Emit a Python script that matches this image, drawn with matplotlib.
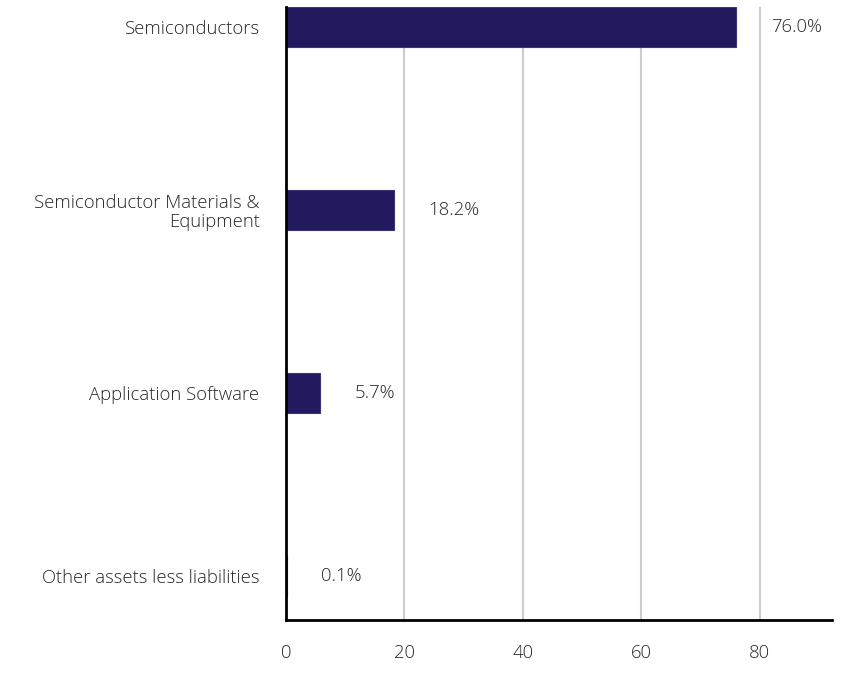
import matplotlib
matplotlib.use("Agg")
import matplotlib.pyplot as plt

categories = ["Semiconductors", "Semiconductor Materials &\nEquipment",
              "Application Software", "Other assets less liabilities"]
values = [76.0, 18.2, 5.7, 0.1]
labels = ["76.0%", "18.2%", "5.7%", "0.1%"]
xticks = [0, 20, 40, 60, 80]

plt.rcParams['font.family'] = ['Open Sans', 'DejaVu Sans']

FS = 13.3
TC = "#262626"

fig = plt.figure(figsize=(8.64, 6.84), dpi=100)
ax = fig.add_axes([286/864, 1-620/684, (832-286)/864, (620-7)/684])

pos = list(range(len(categories)))
ax.barh(pos, values, height=0.219, color="#211a5f", edgecolor="#3a3575", linewidth=0.8, zorder=3)
ax.set_ylim(3 + 44/183, -20/183)
ax.set_xlim(0, 92.2)

for p, v, l in zip(pos, values, labels):
    ax.annotate(l, (v, p), xytext=(25, 0), textcoords="offset points",
                va="center", ha="left", fontsize=FS, color=TC, fontweight="light")

ax.set_yticks(pos)
ax.set_yticklabels(categories, fontsize=FS, color=TC, fontweight="light",
                   linespacing=1.08)
ax.set_xticks(xticks)
ax.set_xticklabels([str(t) for t in xticks], fontsize=FS, color=TC, fontweight="light")
ax.tick_params(axis="y", length=0, pad=19)
ax.tick_params(axis="x", length=0, pad=17)
for lab in ax.get_yticklabels():
    lab.set_multialignment("right")

ax.grid(axis="x", color="#cccccc", linewidth=1.5, zorder=0)
ax.set_axisbelow(True)
for s in ["top", "right"]:
    ax.spines[s].set_visible(False)
ax.spines["left"].set_linewidth(2)
ax.spines["bottom"].set_linewidth(2)
ax.spines["left"].set_zorder(4)

fig.savefig("out.png", dpi=100)
